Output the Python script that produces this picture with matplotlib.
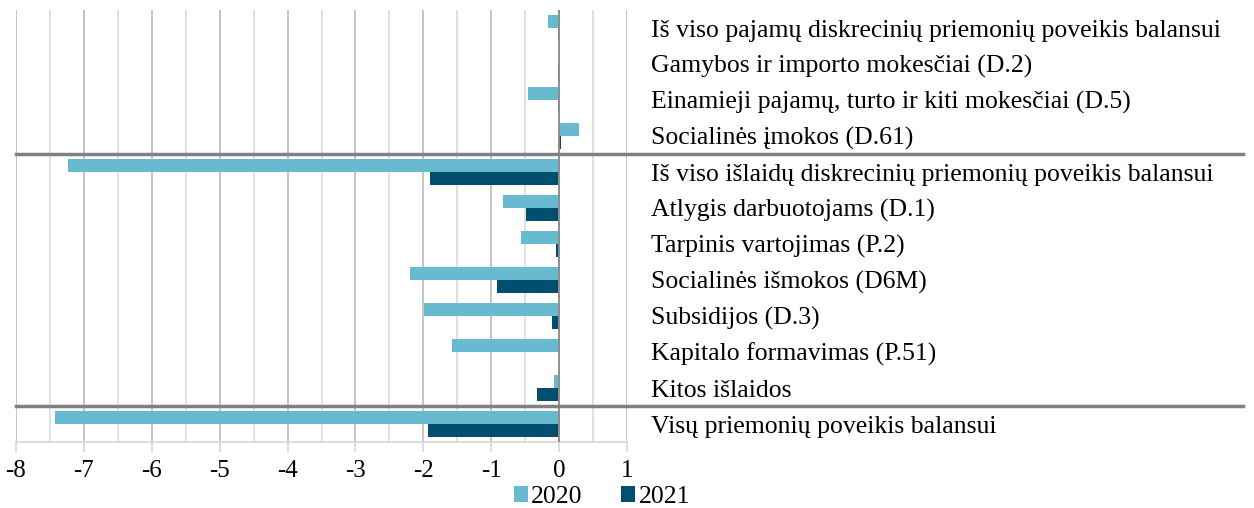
import matplotlib.pyplot as plt
import numpy as np
from matplotlib.ticker import MultipleLocator

categories = [
    'Iš viso pajamų diskrecinių priemonių poveikis balansui',
    'Gamybos ir importo mokesčiai (D.2)',
    'Einamieji pajamų, turto ir kiti mokesčiai (D.5)',
    'Socialinės įmokos (D.61)',
    'Iš viso išlaidų diskrecinių priemonių poveikis balansui',
    'Atlygis darbuotojams (D.1)',
    'Tarpinis vartojimas (P.2)',
    'Socialinės išmokos (D6M)',
    'Subsidijos (D.3)',
    'Kapitalo formavimas (P.51)',
    'Kitos išlaidos',
    'Visų priemonių poveikis balansui',
]
values_2020 = [-0.17, -0.01, -0.46, 0.30, -7.24, -0.82, -0.56, -2.20, -1.99, -1.58, -0.07, -7.42]
values_2021 = [-0.01, -0.01, -0.02, 0.03, -1.90, -0.49, -0.05, -0.91, -0.10, 0.0, -0.32, -1.93]
x_ticks = list(range(-8, 2))
separators = [3.5, 10.5]

plt.rcParams['font.family'] = ['Liberation Serif', 'DejaVu Serif']

fig = plt.figure(figsize=(12.54, 5.08), dpi=100)
ax = fig.add_axes([16 / 1254, 1 - 442 / 508, (627 - 16) / 1254, 432 / 508])

y = np.arange(len(categories))
h = 0.36
ax.barh(y - h / 2, values_2020, height=h, color='#67BACF', label='2020', zorder=3)
ax.barh(y + h / 2, values_2021, height=h, color='#004F6F', label='2021', zorder=3)

ax.set_xlim(-8, 1)
ax.set_ylim(len(categories) - 0.5, -0.5)
ax.set_xticks(x_ticks)
ax.set_xticklabels([str(t) for t in x_ticks], fontsize=18)
ax.xaxis.set_minor_locator(MultipleLocator(0.5))
ax.grid(axis='x', which='major', color='#BFBFBF', linewidth=1.3, zorder=0)
ax.grid(axis='x', which='minor', color='#DDDDDD', linewidth=1.3, zorder=0)
ax.tick_params(axis='x', which='major', length=7, color='#D9D9D9', width=1.3, pad=6)
ax.tick_params(axis='x', which='minor', length=0)
ax.axvline(0, color='#8C8C8C', linewidth=1.3, zorder=4)

ax.yaxis.tick_right()
ax.set_yticks(y)
ax.set_yticklabels(categories, fontsize=18.5)
ax.tick_params(axis='y', length=0, pad=17)

for s in ['top', 'left', 'right']:
    ax.spines[s].set_visible(False)
ax.spines['bottom'].set_color('#D9D9D9')
ax.spines['bottom'].set_linewidth(1.3)

for s in separators:
    ax.plot([0, (1243 - 16) / (627 - 16)], [s, s], transform=ax.get_yaxis_transform(),
            color='#808080', linewidth=2.5, clip_on=False, zorder=5)

fig.legend(loc='center', bbox_to_anchor=(602 / 1254, 1 - 497 / 508), ncol=2, frameon=False,
           fontsize=18.5, handlelength=0.55, handleheight=0.55, handletextpad=0.12,
           columnspacing=1.5, borderpad=0)

fig.savefig('out.png', dpi=100)
